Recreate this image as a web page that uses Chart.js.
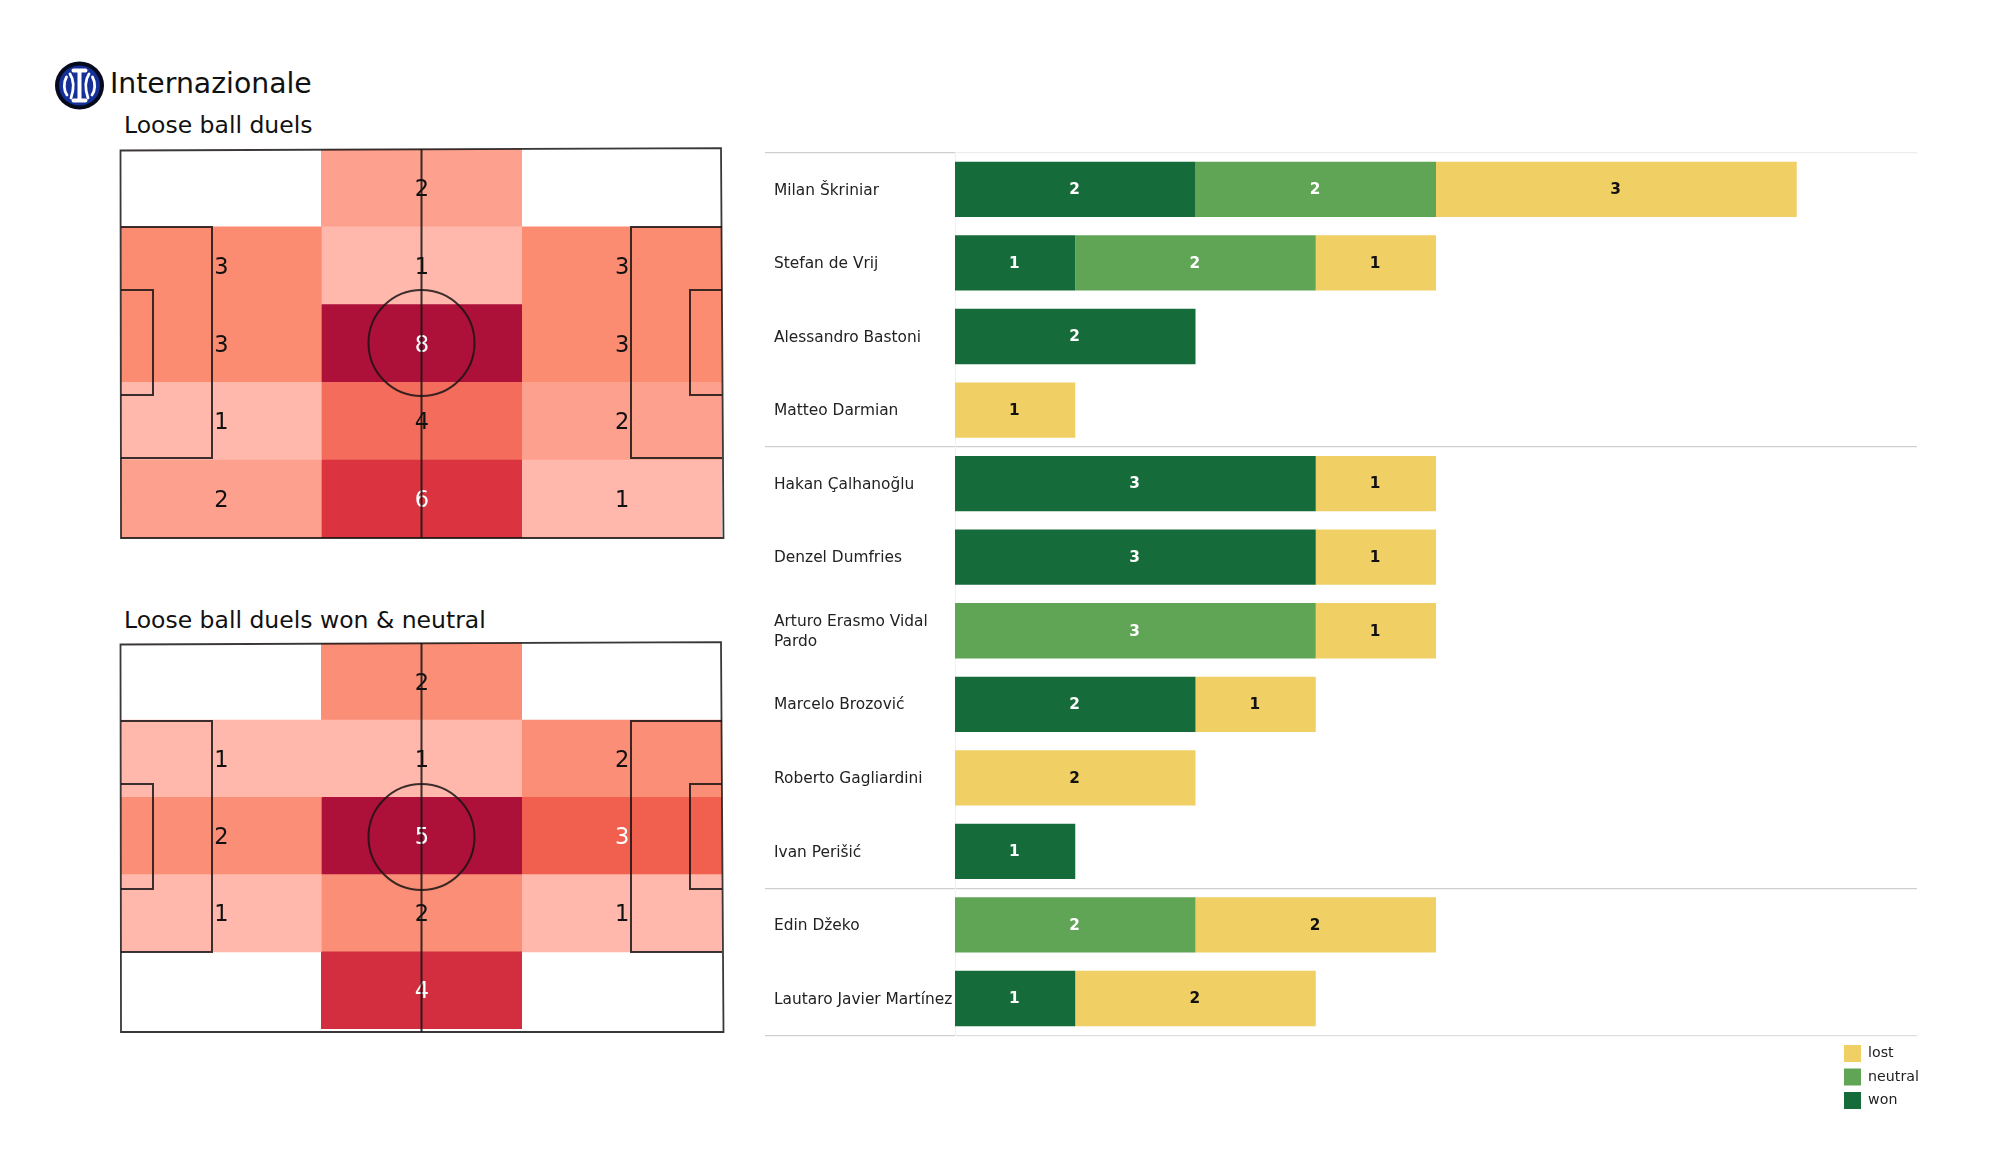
<!DOCTYPE html>
<html><head><meta charset="utf-8">
<script src="https://cdn.jsdelivr.net/npm/chart.js@4"></script>
<style>
html,body{margin:0;padding:0;background:#fff;width:2000px;height:1175px;overflow:hidden;font-family:"DejaVu Sans",sans-serif;color:#111}
canvas{position:absolute;display:block}
.t{position:absolute;white-space:nowrap;line-height:1;transform:translateY(-50%)}
svg{position:absolute}
</style></head><body>
<svg style="left:54px;top:61px" width="52" height="50" viewBox="0 0 52 50">
<ellipse cx="25.5" cy="24.5" rx="24.5" ry="24" fill="#050a1c"/>
<ellipse cx="25.5" cy="24.5" rx="20.5" ry="20" fill="#16309a"/>
<g fill="none" stroke="#fff" stroke-linecap="round">
<path d="M25.5 11V38M19.5 9.5H31.5M19.5 39.5H31.5" stroke-width="4"/>
<path d="M12.5 16C9 22 10 30 13 34M16 13C20 19 20 28 17 37" stroke-width="2.8"/>
<path d="M38.5 16C42 22 41 30 38 34M35 13C31 19 31 28 34 37" stroke-width="2.8"/>
</g></svg>
<div class="t" style="left:110px;top:84px;font-size:28.3px">Internazionale</div>
<div class="t" style="left:124px;top:126px;font-size:23.5px">Loose ball duels</div>
<div class="t" style="left:124px;top:621px;font-size:23.5px">Loose ball duels won &amp; neutral</div>
<canvas id="heatA" width="660" height="430" style="left:100px;top:130px"></canvas>
<canvas id="heatB" width="660" height="430" style="left:100px;top:624px"></canvas>
<canvas id="bars" width="1200" height="1000" style="left:740px;top:130px"></canvas>
<script>
// Zone rows, top to bottom
const zoneRows = ['row 1','row 2','row 3','row 4','row 5'];
// Loose ball duels: counts per pitch column
const allLeft   = [0,3,3,1,2];
const allCentre = [2,1,8,4,6];
const allRight  = [0,3,3,2,1];
// Loose ball duels won & neutral: counts per pitch column
const wonLeft   = [0,1,2,1,0];
const wonCentre = [2,1,5,2,4];
const wonRight  = [0,2,3,1,0];
// Colour per count
const allColours = {1:'#FFB8AB',2:'#FDA08D',3:'#FB8C72',4:'#F46D5C',6:'#DC3341',8:'#AD1038'};
const wonColours = {1:'#FFB8AB',2:'#FB8E76',3:'#F1604E',4:'#D22E3F',5:'#AD1038'};

// Players and duel outcomes
const players = ['Milan Škriniar','Stefan de Vrij','Alessandro Bastoni','Matteo Darmian','Hakan Çalhanoğlu','Denzel Dumfries',
  ['Arturo Erasmo Vidal','Pardo'],'Marcelo Brozović','Roberto Gagliardini','Ivan Perišić','Edin Džeko','Lautaro Javier Martínez'];
const won     = [2,1,2,0,3,3,0,2,0,1,0,1];
const neutral = [2,2,0,0,0,0,3,0,0,0,2,0];
const lost    = [3,1,0,1,1,1,1,1,2,0,2,2];
const groupBreaks = [4,10];

const FONT = '"DejaVu Sans"';

const pitchPlugin = {
  id:'pitch',
  afterDatasetsDraw(chart){
    const {ctx,chartArea:a} = chart, L=a.left, T=a.top, R=a.right, H=389;
    ctx.save();
    // cell counts, under the pitch lines
    const counts=chart.options.plugins.pitch.counts;
    const max=Math.max(...counts.flat());
    ctx.font='22.5px '+FONT; ctx.textAlign='center'; ctx.textBaseline='middle';
    chart.data.datasets.forEach((ds,d)=>{
      chart.getDatasetMeta(d).data.forEach((el,i)=>{
        const v=counts[d][i]; if(!v) return;
        const c=el.getCenterPoint();
        ctx.fillStyle=v/max>=.6?'#fff':'#111';
        ctx.fillText(String(v),c.x+.3,c.y+2.2);
      });
    });
    ctx.lineWidth=1.8; ctx.strokeStyle='rgba(25,20,20,.85)';
    // skewed outline as in the picture
    ctx.beginPath();
    ctx.moveTo(L-.5,T+1.5); ctx.lineTo(R-1,T-.8); ctx.lineTo(R+1.5,T+H); ctx.lineTo(L,T+H); ctx.closePath(); ctx.stroke();
    const cx=(L+R)/2;
    ctx.lineWidth=2;
    const line=(pts)=>{ctx.beginPath();pts.forEach((p,i)=>i?ctx.lineTo(p[0],p[1]):ctx.moveTo(p[0],p[1]));ctx.stroke();};
    line([[cx,T],[cx,T+H]]);
    line([[L,T+78],[L+91,T+78],[L+91,T+309],[L,T+309]]);
    line([[L,T+141],[L+32,T+141],[L+32,T+246],[L,T+246]]);
    line([[R,T+78],[R-91,T+78],[R-91,T+309],[R,T+309]]);
    line([[R,T+141],[R-32,T+141],[R-32,T+246],[R,T+246]]);
    ctx.beginPath(); ctx.ellipse(cx,T+194,53,53,0,0,Math.PI*2); ctx.stroke();
    ctx.restore();
  }
};

function heat(id,cols,colours,top,height){
  const ds=cols.map((col,c)=>({
    data:col.map(()=>[c,c+1]),
    backgroundColor:col.map(v=>v?colours[v]:'rgba(255,255,255,0)'),
    borderWidth:0,barPercentage:1,categoryPercentage:1,grouped:false
  }));
  new Chart(document.getElementById(id),{
    type:'bar',
    data:{labels:zoneRows,datasets:ds},
    options:{
      indexAxis:'y',responsive:false,animation:false,devicePixelRatio:1,
      layout:{padding:{left:21,right:38,top:top,bottom:430-top-height}},
      scales:{x:{type:'linear',min:0,max:3,display:false},y:{display:false}},
      plugins:{legend:{display:false},tooltip:{enabled:false},title:{display:false},pitch:{counts:cols}}
    },
    plugins:[pitchPlugin]
  });
}
heat('heatA',[allLeft,allCentre,allRight],allColours,19,389);
heat('heatB',[wonLeft,wonCentre,wonRight],wonColours,19,386);

const barLabels={
  id:'barLabels',
  beforeDraw(chart){
    // nudge player names 1px down
    chart.scales.y.getLabelItems(chart.chartArea).forEach(it=>{
      if(!it._moved){it.options.translation[1]+=1.2; it._moved=true;}
    });
  },
  afterDatasetsDraw(chart){
    const {ctx}=chart; ctx.save();
    ctx.font='bold 15.3px '+FONT; ctx.textAlign='center'; ctx.textBaseline='middle';
    chart.data.datasets.forEach((ds,d)=>{
      chart.getDatasetMeta(d).data.forEach((el,i)=>{
        const v=ds.data[i]; if(!v) return;
        const c=el.getCenterPoint();
        ctx.fillStyle=ds.label==='lost'?'#111':'#fff';
        ctx.fillText(String(v),c.x-.8,c.y+.8);
      });
    });
    ctx.restore();
  }
};
const legendPlace={
  id:'legendPlace',
  afterLayout(chart){
    const l=chart.legend;
    l.left=1097.5; l.top=908.5; l.right=l.left+l.width; l.bottom=l.top+l.height;
    l.adjustHitBoxes();
  }
};
const isBreak=i=>groupBreaks.includes(i);
new Chart(document.getElementById('bars'),{
  type:'bar',
  data:{labels:players,datasets:[
    {label:'won',data:won,backgroundColor:'#156B3A'},
    {label:'neutral',data:neutral,backgroundColor:'#5FA555'},
    {label:'lost',data:lost,backgroundColor:'#F0CF65'}
  ]},
  options:{
    indexAxis:'y',responsive:false,animation:false,devicePixelRatio:1,
    datasets:{bar:{barPercentage:.752,categoryPercentage:1,borderWidth:0}},
    layout:{padding:{left:34,right:23,top:22.6,bottom:94.7}},
    scales:{
      x:{type:'linear',stacked:true,min:0,max:8,display:false},
      y:{stacked:true,
        border:{color:'#f1f1f1',width:1},
        afterFit(s){s.width=181;},
        grid:{
          tickLength:190,
          lineWidth:1.2,
          color:c=>c.index===undefined?'#dedede':c.index===0?'#eeeeee':isBreak(c.index)?'#cfcfcf':'rgba(0,0,0,0)',
          tickColor:c=>(c.index===undefined||c.index===0||isBreak(c.index))?'#cfcfcf':'rgba(0,0,0,0)'
        },
        ticks:{autoSkip:false,crossAlign:'far',color:'#222',font:{family:FONT,size:15.4,lineHeight:1.32}}
      }
    },
    plugins:{
      tooltip:{enabled:false},
      legend:{position:'chartArea',align:'start',reverse:true,
        labels:{boxWidth:17,boxHeight:17,padding:6.5,color:'#222',font:{family:FONT,size:14.2}}}
    }
  },
  plugins:[barLabels,legendPlace]
});
</script></body></html>
